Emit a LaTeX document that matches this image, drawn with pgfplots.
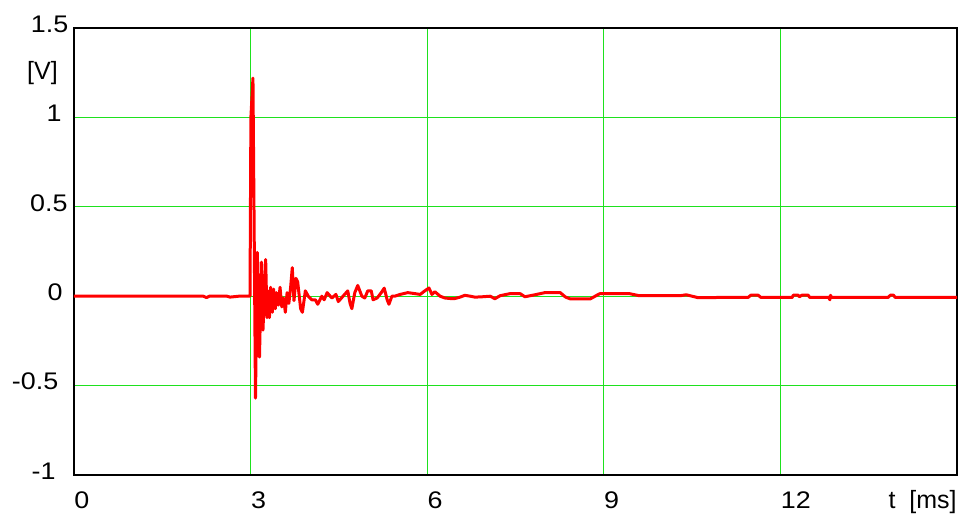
\documentclass[border=0pt]{standalone}
\usepackage{fontspec}
\setmainfont{Liberation Sans}
\newfontfamily\tickfont[FakeStretch=1.12]{Liberation Sans}
\usepackage{pgfplots}
\pgfplotsset{compat=1.18}
\definecolor{gridgreen}{RGB}{30,225,30}
\definecolor{sigred}{RGB}{255,0,0}
\begin{document}
\begin{tikzpicture}
\begin{axis}[
  scale only axis,
  width=441.5pt, height=223.5pt,
  xmin=0, xmax=15, ymin=-1, ymax=1.5,
  xtick={0,3,6,9,12,15},
  xticklabels={0,3,6,9,12,{}},
  ytick={-1,-0.5,0,0.5,1,1.5},
  yticklabels={{-1\hspace*{6.35pt}},{-0.5\hspace*{5pt}},{0\hspace*{2.85pt}},{0.5\hspace*{0.35pt}},{1\hspace*{3.35pt}},1.5},
  major tick length=0pt,
  grid=major,
  major grid style={gridgreen, line width=0.5pt},
  axis line style={black, line width=1pt},
  /pgf/number format/assume math mode=true,
  tick label style={font=\tickfont\fontsize{12}{14}\selectfont, inner sep=0pt},
  xticklabel style={anchor=base west, xshift=0pt, yshift=-16.5pt},
  yticklabel style={anchor=east, xshift=-2.65pt, yshift=2pt},
  clip=false,
]
\addplot[sigred, line width=1.5pt, line join=round] coordinates {
(0,0) (2.2,0) (2.25,-0.008) (2.3,0) (2.6,0) (2.65,-0.005) (2.8,0) (2.99,0)
(3.005,1.0) (3.04,1.22) (3.083,-0.57) (3.114,0.245) (3.151,-0.34) (3.185,0.19)
(3.21,-0.19) (3.256,0.205) (3.278,-0.12) (3.295,0.03) (3.32,-0.12) (3.34,0.05)
(3.37,-0.09) (3.39,0.04) (3.42,-0.07) (3.44,0.02) (3.47,-0.05) (3.50,0.05)
(3.53,-0.06) (3.56,-0.01) (3.59,-0.09) (3.62,0.02) (3.65,-0.04) (3.68,0.05)
(3.708,0.16) (3.737,-0.025) (3.771,0.10) (3.80,0.08) (3.85,-0.07) (3.88,-0.09)
(3.93,0.03) (3.98,0.0) (4.04,-0.02) (4.10,-0.02) (4.14,-0.045) (4.21,0.0)
(4.25,-0.02) (4.30,0.02) (4.38,-0.01) (4.45,0.01) (4.49,-0.03) (4.57,0.0)
(4.65,0.03) (4.69,-0.04) (4.72,-0.07) (4.77,0.02) (4.82,0.06) (4.89,0.0)
(4.94,-0.01) (4.99,0.03) (5.05,0.03) (5.08,-0.02) (5.15,-0.01) (5.22,0.02)
(5.27,0.045) (5.32,-0.02) (5.35,-0.045) (5.40,0.0) (5.45,0.0) (5.54,0.01)
(5.67,0.02) (5.78,0.015) (5.88,0.01) (5.96,0.03) (6.03,0.046) (6.08,0.01)
(6.13,0.025) (6.22,0.0) (6.30,-0.01) (6.39,-0.013) (6.47,-0.013) (6.56,-0.005)
(6.64,0.005) (6.73,0.0) (6.81,-0.005) (6.90,-0.004) (7.07,0.0) (7.15,-0.014)
(7.24,0.003) (7.4,0.014) (7.58,0.014) (7.66,-0.003) (7.83,0.008) (8.0,0.02)
(8.26,0.02) (8.35,-0.005) (8.43,-0.015) (8.77,-0.015) (8.93,0.014) (9.44,0.014)
(9.6,0.003) (10.3,0.003) (10.4,0.008) (10.6,-0.008) (11.0,-0.007) (11.45,-0.007)
(11.5,0.006) (11.62,0.006) (11.67,-0.007) (12.2,-0.007) (12.22,0.006) (12.3,0.006)
(12.32,-0.003) (12.37,0.006) (12.47,0.006) (12.5,-0.007) (12.82,-0.007) (12.84,-0.02)
(12.85,0.005) (12.87,-0.007) (13.83,-0.007) (13.87,0.006) (13.92,0.006) (13.95,-0.007)
(15,-0.007)
};
\node[font=\fontsize{12.5}{14}\selectfont, inner sep=0pt, anchor=center]
  at (rel axis cs:0,1) [xshift=-15.75pt, yshift=-22.5pt] {[V]};
\node[font=\fontsize{12.5}{14}\selectfont, inner sep=0pt, anchor=base east]
  at (rel axis cs:1,0) [yshift=-16.5pt] {t\ \ [ms]};
\end{axis}
\pgfresetboundingbox
\path[use as bounding box] (-37pt,-20.5pt) rectangle (444pt,237.5pt);
\end{tikzpicture}
\end{document}
